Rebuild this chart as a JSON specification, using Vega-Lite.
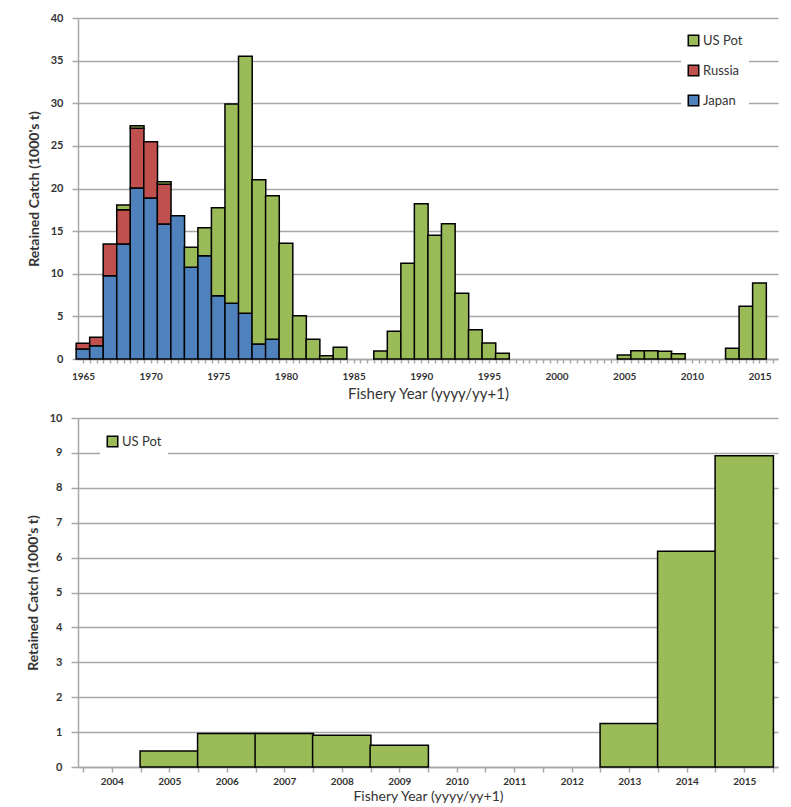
{
  "$schema": "https://vega.github.io/schema/vega-lite/v6.json",
  "background": "white",
  "padding": {"left": 26, "top": 12, "right": 8, "bottom": 0},
  "spacing": 11,
  "config": {
    "font": "Lato",
    "view": {"stroke": null},
    "axis": {
      "domainColor": "#A6A6A6",
      "domainWidth": 1.5,
      "tickColor": "#A6A6A6",
      "tickWidth": 1.5,
      "gridColor": "#A6A6A6",
      "gridWidth": 1.5,
      "labelColor": "#333333",
      "titleColor": "#333333",
      "labelFont": "Lato",
      "titleFont": "Lato"
    },
    "legend": {
      "labelFont": "Lato",
      "labelColor": "#333333",
      "labelFontSize": 13
    }
  },
  "datasets": {
    "catch": [
      {"year": 1965, "source": "Japan", "value": 1.17},
      {"year": 1965, "source": "Russia", "value": 0.67},
      {"year": 1966, "source": "Japan", "value": 1.56},
      {"year": 1966, "source": "Russia", "value": 0.98},
      {"year": 1967, "source": "Japan", "value": 9.78},
      {"year": 1967, "source": "Russia", "value": 3.71},
      {"year": 1968, "source": "Japan", "value": 13.49},
      {"year": 1968, "source": "Russia", "value": 4.03},
      {"year": 1968, "source": "US Pot", "value": 0.54},
      {"year": 1969, "source": "Japan", "value": 20.06},
      {"year": 1969, "source": "Russia", "value": 7.0},
      {"year": 1969, "source": "US Pot", "value": 0.31},
      {"year": 1970, "source": "Japan", "value": 18.89},
      {"year": 1970, "source": "Russia", "value": 6.6},
      {"year": 1971, "source": "Japan", "value": 15.84},
      {"year": 1971, "source": "Russia", "value": 4.65},
      {"year": 1971, "source": "US Pot", "value": 0.31},
      {"year": 1972, "source": "Japan", "value": 16.81},
      {"year": 1973, "source": "Japan", "value": 10.75},
      {"year": 1973, "source": "US Pot", "value": 2.35},
      {"year": 1974, "source": "Japan", "value": 12.12},
      {"year": 1974, "source": "US Pot", "value": 3.28},
      {"year": 1975, "source": "Japan", "value": 7.43},
      {"year": 1975, "source": "US Pot", "value": 10.32},
      {"year": 1976, "source": "Japan", "value": 6.53},
      {"year": 1976, "source": "US Pot", "value": 23.38},
      {"year": 1977, "source": "Japan", "value": 5.36},
      {"year": 1977, "source": "US Pot", "value": 30.14},
      {"year": 1978, "source": "Japan", "value": 1.76},
      {"year": 1978, "source": "US Pot", "value": 19.28},
      {"year": 1979, "source": "Japan", "value": 2.31},
      {"year": 1979, "source": "US Pot", "value": 16.85},
      {"year": 1980, "source": "US Pot", "value": 13.57},
      {"year": 1981, "source": "US Pot", "value": 5.08},
      {"year": 1982, "source": "US Pot", "value": 2.31},
      {"year": 1983, "source": "US Pot", "value": 0.39},
      {"year": 1984, "source": "US Pot", "value": 1.37},
      {"year": 1987, "source": "US Pot", "value": 0.94},
      {"year": 1988, "source": "US Pot", "value": 3.25},
      {"year": 1989, "source": "US Pot", "value": 11.22},
      {"year": 1990, "source": "US Pot", "value": 18.22},
      {"year": 1991, "source": "US Pot", "value": 14.51},
      {"year": 1992, "source": "US Pot", "value": 15.87},
      {"year": 1993, "source": "US Pot", "value": 7.7},
      {"year": 1994, "source": "US Pot", "value": 3.44},
      {"year": 1995, "source": "US Pot", "value": 1.88},
      {"year": 1996, "source": "US Pot", "value": 0.66},
      {"year": 2005, "source": "US Pot", "value": 0.46},
      {"year": 2006, "source": "US Pot", "value": 0.96},
      {"year": 2007, "source": "US Pot", "value": 0.96},
      {"year": 2008, "source": "US Pot", "value": 0.91},
      {"year": 2009, "source": "US Pot", "value": 0.62},
      {"year": 2013, "source": "US Pot", "value": 1.25},
      {"year": 2014, "source": "US Pot", "value": 6.18},
      {"year": 2015, "source": "US Pot", "value": 8.92}
    ]
  },
  "vconcat": [
    {
      "width": 700,
      "height": 341,
      "data": {"name": "catch"},
      "mark": {"type": "bar", "width": 13.73, "stroke": "black", "strokeWidth": 1.5, "clip": false},
      "encoding": {
        "x": {
          "field": "year",
          "type": "quantitative",
          "scale": {"domain": [1965, 2016], "nice": false, "zero": false},
          "axis": {
            "title": "Fishery Year (yyyy/yy+1)",
            "titleFontSize": 15,
            "titleFontWeight": "normal",
            "titlePadding": 5,
            "grid": false,
            "values": [1965,1965.5,1966,1966.5,1967,1967.5,1968,1968.5,1969,1969.5,1970,1970.5,1971,1971.5,1972,1972.5,1973,1973.5,1974,1974.5,1975,1975.5,1976,1976.5,1977,1977.5,1978,1978.5,1979,1979.5,1980,1980.5,1981,1981.5,1982,1982.5,1983,1983.5,1984,1984.5,1985,1985.5,1986,1986.5,1987,1987.5,1988,1988.5,1989,1989.5,1990,1990.5,1991,1991.5,1992,1992.5,1993,1993.5,1994,1994.5,1995,1995.5,1996,1996.5,1997,1997.5,1998,1998.5,1999,1999.5,2000,2000.5,2001,2001.5,2002,2002.5,2003,2003.5,2004,2004.5,2005,2005.5,2006,2006.5,2007,2007.5,2008,2008.5,2009,2009.5,2010,2010.5,2011,2011.5,2012,2012.5,2013,2013.5,2014,2014.5,2015,2015.5,2016],
            "labelExpr": "datum.value % 5 === 0 ? '' + datum.value : ''",
            "labelOverlap": false,
            "labelFlush": false,
            "labelFontSize": 10,
            "labelFontWeight": "bold",
            "labelPadding": 8,
            "tickSize": 4
          }
        },
        "y": {
          "field": "value",
          "type": "quantitative",
          "aggregate": "sum",
          "stack": "zero",
          "scale": {"domain": [0, 40], "nice": false},
          "axis": {
            "title": "Retained Catch (1000's t)",
            "titleFontSize": 14,
            "titleFontWeight": "bold",
            "titlePadding": 9,
            "values": [0, 5, 10, 15, 20, 25, 30, 35, 40],
            "labelFontSize": 11,
            "labelFontWeight": "bold",
            "labelPadding": 9,
            "tickSize": 6
          }
        },
        "color": {
          "field": "source",
          "type": "nominal",
          "scale": {"domain": ["US Pot", "Russia", "Japan"], "range": ["#9BBB59", "#C0504D", "#4F81BD"]},
          "legend": {
            "title": null,
            "orient": "none",
            "legendX": 603,
            "legendY": 10,
            "fillColor": "white",
            "padding": 6,
            "symbolType": "square",
            "symbolSize": 110,
            "symbolStrokeColor": "black",
            "symbolStrokeWidth": 1.5,
            "rowPadding": 13,
            "labelOffset": 3
          }
        },
        "order": {"field": "source", "sort": "ascending"}
      }
    },
    {
      "width": 700,
      "height": 349,
      "data": {"name": "catch"},
      "transform": [{"filter": "datum.year >= 2004"}],
      "mark": {"type": "bar", "width": 58.33, "stroke": "black", "strokeWidth": 1.5},
      "encoding": {
        "x": {
          "field": "year",
          "type": "quantitative",
          "scale": {"domain": [2003.5, 2015.5], "nice": false, "zero": false},
          "axis": {
            "title": "Fishery Year (yyyy/yy+1)",
            "titleFontSize": 14,
            "titleFontWeight": "normal",
            "titlePadding": 3,
            "grid": false,
            "values": [2003.5,2004,2004.5,2005,2005.5,2006,2006.5,2007,2007.5,2008,2008.5,2009,2009.5,2010,2010.5,2011,2011.5,2012,2012.5,2013,2013.5,2014,2014.5,2015,2015.5],
            "labelExpr": "datum.value % 1 === 0 ? '' + datum.value : ''",
            "labelOverlap": false,
            "labelFlush": false,
            "labelFontSize": 10,
            "labelFontWeight": "bold",
            "labelPadding": 4,
            "tickSize": 5
          }
        },
        "y": {
          "field": "value",
          "type": "quantitative",
          "scale": {"domain": [0, 10], "nice": false},
          "axis": {
            "title": "Retained Catch (1000's t)",
            "titleFontSize": 14,
            "titleFontWeight": "bold",
            "titlePadding": 9,
            "values": [0, 1, 2, 3, 4, 5, 6, 7, 8, 9, 10],
            "labelFontSize": 11,
            "labelFontWeight": "bold",
            "labelPadding": 9,
            "tickSize": 7
          }
        },
        "color": {
          "field": "source",
          "type": "nominal",
          "scale": {"domain": ["US Pot"], "range": ["#9BBB59"]},
          "legend": {
            "title": null,
            "orient": "none",
            "legendX": 22,
            "legendY": 11,
            "fillColor": "white",
            "padding": 6,
            "symbolType": "square",
            "symbolSize": 110,
            "symbolStrokeColor": "black",
            "symbolStrokeWidth": 1.5,
            "labelOffset": 3
          }
        }
      }
    }
  ],
  "resolve": {"scale": {"color": "independent"}, "legend": {"color": "independent"}}
}
